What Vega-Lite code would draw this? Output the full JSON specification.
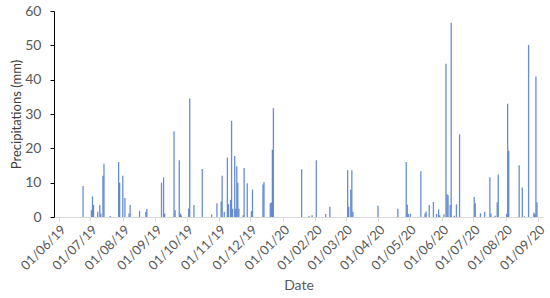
{
  "$schema": "https://vega.github.io/schema/vega-lite/v6.json",
  "width": 489,
  "height": 206,
  "autosize": {"type": "none"},
  "padding": {"left": 54, "top": 11, "right": 7, "bottom": 81},
  "background": "white",
  "config": {"view": {"stroke": null}, "font": "Lato"},
  "data": {"values": [
    {"date": "2019-06-24", "p": 9},
    {"date": "2019-07-02", "p": 2},
    {"date": "2019-07-03", "p": 6},
    {"date": "2019-07-04", "p": 3.5},
    {"date": "2019-07-08", "p": 1.5},
    {"date": "2019-07-10", "p": 3.5},
    {"date": "2019-07-11", "p": 1},
    {"date": "2019-07-13", "p": 12},
    {"date": "2019-07-14", "p": 15.5},
    {"date": "2019-07-20", "p": 0.3},
    {"date": "2019-07-28", "p": 16},
    {"date": "2019-07-29", "p": 10},
    {"date": "2019-08-01", "p": 12},
    {"date": "2019-08-03", "p": 5.5},
    {"date": "2019-08-07", "p": 1},
    {"date": "2019-08-08", "p": 3.5},
    {"date": "2019-08-17", "p": 1.8},
    {"date": "2019-08-23", "p": 1.5},
    {"date": "2019-08-24", "p": 2.3},
    {"date": "2019-09-07", "p": 10},
    {"date": "2019-09-09", "p": 11.5},
    {"date": "2019-09-10", "p": 1},
    {"date": "2019-09-19", "p": 25},
    {"date": "2019-09-20", "p": 2},
    {"date": "2019-09-24", "p": 16.5},
    {"date": "2019-09-25", "p": 1},
    {"date": "2019-09-26", "p": 0.5},
    {"date": "2019-10-03", "p": 2.5},
    {"date": "2019-10-04", "p": 34.5},
    {"date": "2019-10-08", "p": 3.5},
    {"date": "2019-10-16", "p": 14},
    {"date": "2019-10-25", "p": 0.7},
    {"date": "2019-10-30", "p": 4},
    {"date": "2019-11-03", "p": 4.5},
    {"date": "2019-11-04", "p": 12},
    {"date": "2019-11-06", "p": 1.5},
    {"date": "2019-11-09", "p": 17.3},
    {"date": "2019-11-10", "p": 3.7},
    {"date": "2019-11-12", "p": 5},
    {"date": "2019-11-13", "p": 28},
    {"date": "2019-11-14", "p": 2.4},
    {"date": "2019-11-16", "p": 17.8},
    {"date": "2019-11-17", "p": 2.4},
    {"date": "2019-11-18", "p": 14.8},
    {"date": "2019-11-19", "p": 10},
    {"date": "2019-11-20", "p": 2.4},
    {"date": "2019-11-24", "p": 0.5},
    {"date": "2019-11-25", "p": 14.3},
    {"date": "2019-11-28", "p": 9.8},
    {"date": "2019-12-02", "p": 1.7},
    {"date": "2019-12-03", "p": 8},
    {"date": "2019-12-13", "p": 9.5},
    {"date": "2019-12-14", "p": 10.2},
    {"date": "2019-12-20", "p": 4},
    {"date": "2019-12-21", "p": 4.2},
    {"date": "2019-12-22", "p": 19.6},
    {"date": "2019-12-23", "p": 31.7},
    {"date": "2020-01-19", "p": 13.9},
    {"date": "2020-01-26", "p": 0.3},
    {"date": "2020-01-29", "p": 0.5},
    {"date": "2020-02-02", "p": 16.5},
    {"date": "2020-02-11", "p": 0.9},
    {"date": "2020-02-15", "p": 3},
    {"date": "2020-03-03", "p": 13.6},
    {"date": "2020-03-04", "p": 3},
    {"date": "2020-03-06", "p": 8},
    {"date": "2020-03-07", "p": 13.6},
    {"date": "2020-03-08", "p": 1.5},
    {"date": "2020-04-01", "p": 3.3},
    {"date": "2020-04-20", "p": 2.4},
    {"date": "2020-04-28", "p": 16},
    {"date": "2020-04-29", "p": 3.6},
    {"date": "2020-04-30", "p": 0.9},
    {"date": "2020-05-02", "p": 1},
    {"date": "2020-05-12", "p": 13.3},
    {"date": "2020-05-16", "p": 1},
    {"date": "2020-05-17", "p": 1.6},
    {"date": "2020-05-20", "p": 3.5},
    {"date": "2020-05-24", "p": 4.4},
    {"date": "2020-05-27", "p": 0.9},
    {"date": "2020-05-29", "p": 2.2},
    {"date": "2020-05-30", "p": 0.5},
    {"date": "2020-06-03", "p": 0.7},
    {"date": "2020-06-05", "p": 44.6},
    {"date": "2020-06-06", "p": 6.6},
    {"date": "2020-06-07", "p": 6.3},
    {"date": "2020-06-09", "p": 3.5},
    {"date": "2020-06-10", "p": 56.6},
    {"date": "2020-06-13", "p": 0.4},
    {"date": "2020-06-15", "p": 3.7},
    {"date": "2020-06-18", "p": 24.1},
    {"date": "2020-07-02", "p": 5.8},
    {"date": "2020-07-03", "p": 4},
    {"date": "2020-07-08", "p": 1.1},
    {"date": "2020-07-12", "p": 1.5},
    {"date": "2020-07-17", "p": 11.6},
    {"date": "2020-07-18", "p": 1},
    {"date": "2020-07-22", "p": 0.4},
    {"date": "2020-07-24", "p": 4.3},
    {"date": "2020-07-25", "p": 12.4},
    {"date": "2020-08-02", "p": 0.9},
    {"date": "2020-08-03", "p": 33},
    {"date": "2020-08-04", "p": 19.3},
    {"date": "2020-08-14", "p": 15.1},
    {"date": "2020-08-17", "p": 8.6},
    {"date": "2020-08-19", "p": 0.2},
    {"date": "2020-08-23", "p": 50.1},
    {"date": "2020-08-28", "p": 1.3},
    {"date": "2020-08-29", "p": 0.9},
    {"date": "2020-08-30", "p": 40.9},
    {"date": "2020-08-31", "p": 4.3}
  ]},
  "mark": {"type": "bar", "width": 1.3, "color": "#4472C4", "opacity": 0.8},
  "encoding": {
    "x": {
      "field": "date",
      "type": "temporal",
      "scale": {
        "type": "utc",
        "domain": [
          {"year": 2019, "month": 6, "date": 1, "utc": true},
          {"year": 2020, "month": 9, "date": 1, "utc": true}
        ]
      },
      "axis": {
        "title": "Date",
        "format": "%d/%m/%y",
        "values": [
          {"year": 2019, "month": 6, "date": 1, "utc": true},
          {"year": 2019, "month": 7, "date": 1, "utc": true},
          {"year": 2019, "month": 8, "date": 1, "utc": true},
          {"year": 2019, "month": 9, "date": 1, "utc": true},
          {"year": 2019, "month": 10, "date": 1, "utc": true},
          {"year": 2019, "month": 11, "date": 1, "utc": true},
          {"year": 2019, "month": 12, "date": 1, "utc": true},
          {"year": 2020, "month": 1, "date": 1, "utc": true},
          {"year": 2020, "month": 2, "date": 1, "utc": true},
          {"year": 2020, "month": 3, "date": 1, "utc": true},
          {"year": 2020, "month": 4, "date": 1, "utc": true},
          {"year": 2020, "month": 5, "date": 1, "utc": true},
          {"year": 2020, "month": 6, "date": 1, "utc": true},
          {"year": 2020, "month": 7, "date": 1, "utc": true},
          {"year": 2020, "month": 8, "date": 1, "utc": true},
          {"year": 2020, "month": 9, "date": 1, "utc": true}
        ],
        "labelAngle": -45,
        "labelFontSize": 13,
        "labelColor": "#595959",
        "labelPadding": 2,
        "labelFlush": false,
        "labelOverlap": false,
        "grid": false,
        "domainColor": "#d9d9d9",
        "tickColor": "#d9d9d9",
        "tickSize": 4,
        "titleFontSize": 14,
        "titleFontWeight": "normal",
        "titleColor": "#595959",
        "titlePadding": 6
      }
    },
    "y": {
      "field": "p",
      "type": "quantitative",
      "scale": {"domain": [0, 60]},
      "axis": {
        "title": "Precipitations (mm)",
        "values": [0, 10, 20, 30, 40, 50, 60],
        "grid": false,
        "domainColor": "#000000",
        "tickColor": "#000000",
        "tickSize": 4,
        "labelFontSize": 14,
        "labelColor": "#595959",
        "labelPadding": 9,
        "titleFontSize": 13,
        "titleFontWeight": "normal",
        "titleColor": "#404040",
        "titlePadding": 1
      }
    }
  }
}
